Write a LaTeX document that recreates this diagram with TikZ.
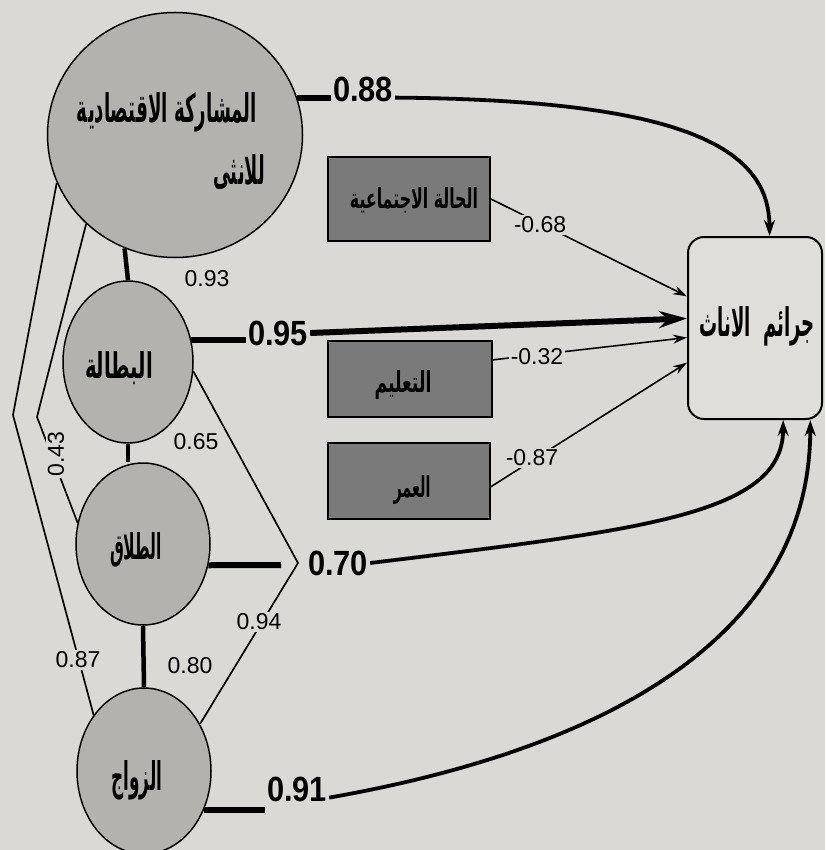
\documentclass[tikz,border=0pt]{standalone}
\usepackage{fontspec}
\usepackage{graphicx}
\usetikzlibrary{shapes.geometric,arrows.meta,calc}
\TeXXeTstate=1
\newfontfamily\arabicfont[Script=Arabic]{DejaVu Sans}
\newfontfamily\numfont{Liberation Sans}
\newfontfamily\bnumfont[FakeStretch=0.88]{Liberation Sans}
\newcommand\artxt[3]{\resizebox{#1}{#2}{\arabicfont\bfseries #3}}
\definecolor{bgc}{RGB}{219,217,213}
\definecolor{circfill}{RGB}{180,178,175}
\definecolor{boxfill}{RGB}{122,122,122}
\definecolor{crimefill}{RGB}{224,222,218}
\begin{document}
\begin{tikzpicture}[x=1pt,y=-1pt,
  circ/.style={ellipse,draw=black,line width=1.5pt,fill=circfill,inner sep=0pt},
  dbox/.style={rectangle,draw=black,line width=1.8pt,fill=boxfill,inner sep=0pt},
  cbox/.style={rectangle,rounded corners=16pt,draw=black,line width=2pt,fill=crimefill,inner sep=0pt},
  thinln/.style={line width=1.7pt},
  tickln/.style={line width=4.5pt},
  stubln/.style={line width=6pt},
  thinarr/.style={line width=1.6pt,-{Stealth[length=14pt,width=9pt]}},
  thickarr/.style={line width=3.8pt,-{Stealth[length=16pt,width=11pt]}},
  bigarr/.style={line width=6pt,-{Stealth[length=28pt,width=17pt]}},
  num/.style={font=\numfont\fontsize{23}{23}\selectfont,inner sep=1.5pt},
  numf/.style={num,fill=bgc},
  bnum/.style={font=\bnumfont\bfseries\fontsize{35}{35}\selectfont,inner sep=2pt},
  artext/.style={inner sep=0pt}
]
\fill[bgc] (0,0) rectangle (825,850);
\useasboundingbox (0,0) rectangle (825,850);

% main nodes
\node[circ, minimum width=255pt, minimum height=245pt] (big) at (175,135) {};
\node[circ, minimum width=130pt, minimum height=162pt] (bat) at (128,362) {};
\node[circ, minimum width=134pt, minimum height=162pt] (tal) at (143,544) {};
\node[circ, minimum width=134pt, minimum height=166pt] (zaw) at (144,771) {};
\node[dbox, minimum width=162pt, minimum height=84pt] (soc) at (409,199) {};
\node[dbox, minimum width=164pt, minimum height=76pt] (edu) at (410,379) {};
\node[dbox, minimum width=162pt, minimum height=76pt] (age) at (409,481) {};
\node[cbox, minimum width=134pt, minimum height=182pt] (crime) at (755,328) {};

% texts
\node[artext] (tbig1) at (167,112) {\artxt{180pt}{30pt}{\beginR المشاركة الاقتصادية\endR}};
\node[artext] (tbig2) at (239,172) {\artxt{52pt}{30pt}{\beginR للانثى\endR}};
\node[artext] (tbat) at (119,368) {\artxt{68pt}{27pt}{\beginR البطالة\endR}};
\node[artext] (ttal) at (136,550) {\artxt{52pt}{27pt}{\beginR الطلاق\endR}};
\node[artext] (tzaw) at (137,780) {\artxt{51pt}{30pt}{\beginR الزواج\endR}};
\node[artext] (tsoc) at (414,200) {\artxt{128pt}{21pt}{\beginR الحالة الاجتماعية\endR}};
\node[artext] (tedu) at (403,385) {\artxt{57pt}{22pt}{\beginR التعليم\endR}};
\node[artext] (tage) at (412,490) {\artxt{37pt}{22pt}{\beginR العمر\endR}};
\node[artext] (tcrime) at (757,326) {\artxt{115pt}{30pt}{\beginR جرائم\ \ الاناث\endR}};

% bend points
\coordinate (b1) at (13,415);
\coordinate (b2) at (37,417);
\coordinate (jn) at (298,563);
\coordinate (s70) at (281,565);

% bold labels
\node[bnum] (l088) at (363,89) {0.88};
\node[bnum] (l095) at (278,333) {0.95};
\node[bnum] (l070) at (338,563) {0.70};
\node[bnum] (l091) at (297,789) {0.91};

% correlations between circles
\draw[tickln] (big.246) -- (bat.north);
\draw[tickln] (bat.south) -- (bat.south |- tal.north);
\draw[tickln] (tal.south) -- (zaw.north);
\draw[thinln] (big.202) -- (b1) -- (zaw.132);
\draw[thinln] (big.225) -- (b2) -- (tal.162);
\draw[thinln] (bat.352) -- (jn) -- (zaw.40);

% stubs
\draw[stubln] (big.17) -- (big.17 -| l088.west);
\draw[stubln] (bat.19) -- (bat.19 -| l095.west);
\draw[stubln] (tal.-18) -- (s70);
\draw[stubln] (zaw.-33) -- (zaw.-33 -| l091.west);

% paths to crime box
\draw[thickarr] (l088.-15) .. controls (690,100) and (769,150) .. (crime.81);
\draw[bigarr] (l095.east) -- (crime.172);
\draw[thickarr] (l070.east) .. controls (640,530) and (783,515) .. (crime.287);
\draw[thickarr] (l091.-15) .. controls (600,750) and (810,640) .. (crime.301);
\draw[thinarr] (soc.east) -- (crime.155);
\draw[thinarr] (edu.13) -- (crime.188);
\draw[thinarr] (age.-4) -- (crime.207);

% thin labels
\node[num] (l093) at (207,279) {0.93};
\node[num] (l065) at (196,442) {0.65};
\node[num] (l080) at (190,666) {0.80};
\node[numf] (l087) at (78,660) {0.87};
\node[numf] (l094) at (259,622) {0.94};
\node[numf, rotate=90] (l043) at (56,454) {0.43};
\node[numf] (lm068) at (540,225) {-0.68};
\node[numf] (lm032) at (537,357) {-0.32};
\node[numf] (lm087) at (532,458) {-0.87};
\end{tikzpicture}
\end{document}
